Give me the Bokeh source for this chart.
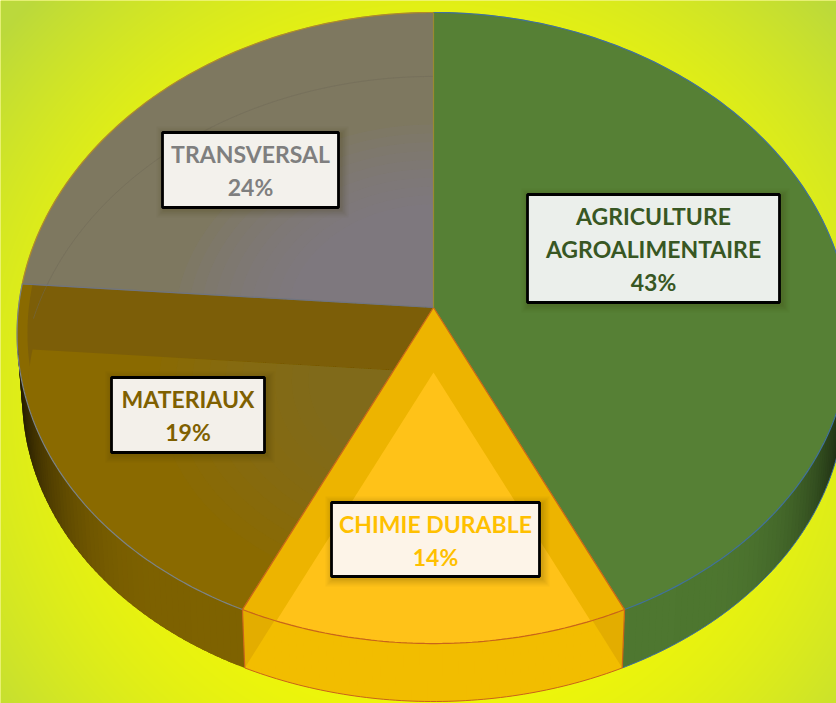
import numpy as np
from bokeh.plotting import figure
from bokeh.models import Range1d
from bokeh.core.properties import value
from bokeh.embed import file_html
from bokeh.resources import INLINE

# ---- data ----
categories = ["AGRICULTURE\nAGROALIMENTAIRE", "CHIMIE DURABLE", "MATERIAUX", "TRANSVERSAL"]
shares = [43.0, 14.0, 19.2, 23.8]
top_colors = ["#568035", "#edb400", "#8a6a00", "#7e7860"]
inner_colors = [None, "#ffc218", "#8a6a00", None]
wall_colors = ["#4e7730", "#f2bd00", "#7e6200", "#7e7860"]
edge_colors = ["#41719c", "#c8641a", "#7c8488", "#b08a2a"]
label_fills = ["#ebefeb", "#fdf4e8", "#f3f0ea", "#f3f1ec"]
label_colors = ["#385723", "#ffc000", "#7f6000", "#7f7f7f"]
# label boxes in page pixels: left, right, top, bottom
label_boxes = [(527, 779, 194, 302), (331, 539, 502, 576), (111, 264, 377, 452), (162, 338, 132, 207)]
label_line_y = [[215, 248, 281], [523, 556], [398, 431], [153, 186]]

# ---- perspective disc geometry (page pixels) ----
CX, APEX_Y = 433.0, 307.0
A, KX = 415.0, 0.083
B, KY = 314.2, 0.065
DEPTH = 62.0
WALL_SCALE = 0.988
INNER_DY = 65.0
PAGE_W, PAGE_H = 836, 703

def P(theta, dy=0.0, scale=1.0):
    u, v = np.sin(theta), np.cos(theta)
    return CX + scale * A * u / (1 + KX * v), APEX_Y - scale * B * v / (1 + KY * v) + dy

def Y(py):
    return PAGE_H - np.asarray(py, dtype=float)

def arc(t0, t1, dy=0.0, scale=1.0, step=np.radians(0.75)):
    n = max(2, int(abs(t1 - t0) / step) + 1)
    return P(np.linspace(t0, t1, n), dy, scale)

def sector(t0, t1, dy=0.0, scale=1.0):
    x, y = arc(t0, t1, dy, scale)
    return np.r_[CX, x], np.r_[APEX_Y + dy, y]

def mix(hexc, f):
    c = np.array([int(hexc[i:i + 2], 16) for i in (1, 3, 5)]) * f
    return "#%02x%02x%02x" % tuple(int(max(0, min(255, q))) for q in c)

cum = np.cumsum([0] + shares) / sum(shares) * 2 * np.pi
bounds = [(cum[i], cum[i + 1]) for i in range(len(shares))]

p = figure(width=PAGE_W, height=PAGE_H, x_range=Range1d(0, PAGE_W), y_range=Range1d(0, PAGE_H),
           output_backend="svg", toolbar_location=None, min_border=0,
           outline_line_color=None, background_fill_color="#e8f010")
p.axis.visible = False
p.grid.visible = False

# ---- background gradient ----
gx, gy = np.meshgrid(np.arange(PAGE_W), np.arange(PAGE_H))
t = np.hypot(gx - 430, gy - 400) / 567.0
g = np.clip((t - 0.45) / 0.55, 0, 1) ** 1.7
c0, c1 = np.array([240, 247, 8]), np.array([187, 217, 60])
rgba = np.zeros(gx.shape + (4,), dtype=np.uint8)
for k in range(3):
    rgba[..., k] = c0[k] + (c1[k] - c0[k]) * g
rgba[..., 3] = 255
img = rgba.view(dtype=np.uint32).reshape(gx.shape)[::-1]
p.image_rgba(image=[img], x=0, y=0, dw=PAGE_W, dh=PAGE_H)

# ---- top surface ----
draw_order = [2, 3, 0, 1]
for i in draw_order:
    t0, t1 = bounds[i]
    x, y = sector(t0, t1)
    p.patch(x, Y(y), fill_color=top_colors[i], line_color=top_colors[i], line_width=0.5)
    if i == 2:   # darker band behind the inner sector
        xb, yb = sector(t0, t1, scale=0.975)
        p.patch(xb, Y(yb), fill_color="#7c5e08", line_color=None)
    if inner_colors[i]:
        xi, yi = sector(t0, t1, dy=INNER_DY, scale=0.975)
        p.patch(xi, Y(yi), fill_color=inner_colors[i], line_color=None)
    if i == 2:   # soft glow towards the centre
        for s in np.arange(0.66, 0.29, -0.04):
            xr, yr = sector(t0, t1, dy=INNER_DY, scale=s)
            p.patch(xr, Y(yr), fill_color="#85703a", fill_alpha=0.07, line_color=None)
    if i == 3:
        for s in np.arange(0.62, 0.35, -0.03):
            xr, yr = sector(t0, t1, scale=s)
            p.patch(xr, Y(yr), fill_color="#807a88", fill_alpha=0.13, line_color=None)
        xa, ya = arc(t0 + np.radians(5), t1, dy=61.0, scale=0.99)
        p.line(xa, Y(ya), line_color="#6f6a58", line_width=1, line_alpha=0.5)

# ---- side wall (front part only), bands overlap so no seams show ----
for i in range(4):
    t0, t1 = bounds[i]
    ts = np.r_[np.arange(t0, t1, np.radians(1.0)), t1]
    if i == 0:           # paint towards the dark end at the rim's right side
        ts = ts[::-1]
    for a, b in zip(ts[:-1], ts[1:]):
        c = (a + b) / 2
        if np.cos(c) > -0.12:
            continue
        end = b + (b - a) * 1.5
        end = max(end, t0) if i == 0 else min(end, t1)
        xa, ya = P(np.array([a, end]))
        xb, yb = P(np.array([end, a]), DEPTH, WALL_SCALE)
        tt = np.clip((abs(np.sin(c)) - 0.55) / 0.45, 0, 1)
        col = mix(wall_colors[i], 1 - 0.78 * tt ** 3)
        p.patch(np.r_[xa, xb], Y(np.r_[ya, yb]), fill_color=col, line_color=None)

# darker corners of the yellow wall, where the inner sector does not reach
t0, t1 = bounds[1]
for corner in (t0, t1):
    xc, yc = P(corner)
    xb, yb = P(corner, DEPTH, WALL_SCALE)
    xe, ye = P(corner, INNER_DY, 0.992)
    rx, ry = arc(t0, t1)
    fr = (ry - APEX_Y - INNER_DY) / (ye - APEX_Y - INNER_DY)
    ex = CX + (xe - CX) * fr
    j = int(np.argmin(np.abs(ex - rx)))
    p.patch([xc, xb, rx[j]], Y([yc, yb, ry[j]]), fill_color="#e3ad00", line_color=None)

# ---- rims and edges ----
for i in draw_order:
    t0, t1 = bounds[i]
    xr, yr = arc(t0, t1)
    p.line(xr, Y(yr), line_color=edge_colors[i], line_width=1.2)
    if i in (0, 1):
        xw, yw = arc(max(t0, np.radians(105)), t1, DEPTH, WALL_SCALE)
        p.line(xw, Y(yw), line_color=edge_colors[i], line_width=1)

# slice edges on the top
for th, col in ((bounds[1][0], "#c8641a"), (bounds[1][1], "#c8641a"),
                (bounds[3][0], "#6f7480"), (bounds[0][0], "#9a8a30")):
    xe, ye = P(th)
    p.line([CX, xe], Y([APEX_Y, ye]), line_color=col, line_width=1.2)
for th in bounds[1]:
    xe, ye = P(th)
    xb, yb = P(th, DEPTH, WALL_SCALE)
    p.line([xe, xb], Y([ye, yb]), line_color="#c8641a", line_width=1.2)

# ---- labels ----
for i in range(4):
    l, r, tp, bt = label_boxes[i]
    for off, al in ((8, 0.04), (6, 0.05), (4, 0.06), (2, 0.08)):
        p.quad(left=l - off + 2, right=r + off + 2, top=Y(tp - off + 2), bottom=Y(bt + off + 2),
               fill_color="#3a3000", fill_alpha=al, line_color=None)
    p.quad(left=l, right=r, top=Y(tp), bottom=Y(bt), fill_color=label_fills[i],
           line_color="#000000", line_width=2.8)
    lines = categories[i].split("\n") + ["%d%%" % round(shares[i])]
    for txt, ly in zip(lines, label_line_y[i]):
        p.text(x=[(l + r) / 2], y=[Y(ly)], text=[txt], text_align="center", text_baseline="middle",
               text_color=label_colors[i], text_font=value("Lato"), text_font_style="bold",
               text_font_size="23px")

open("out.html", "w").write(file_html(p, INLINE))
